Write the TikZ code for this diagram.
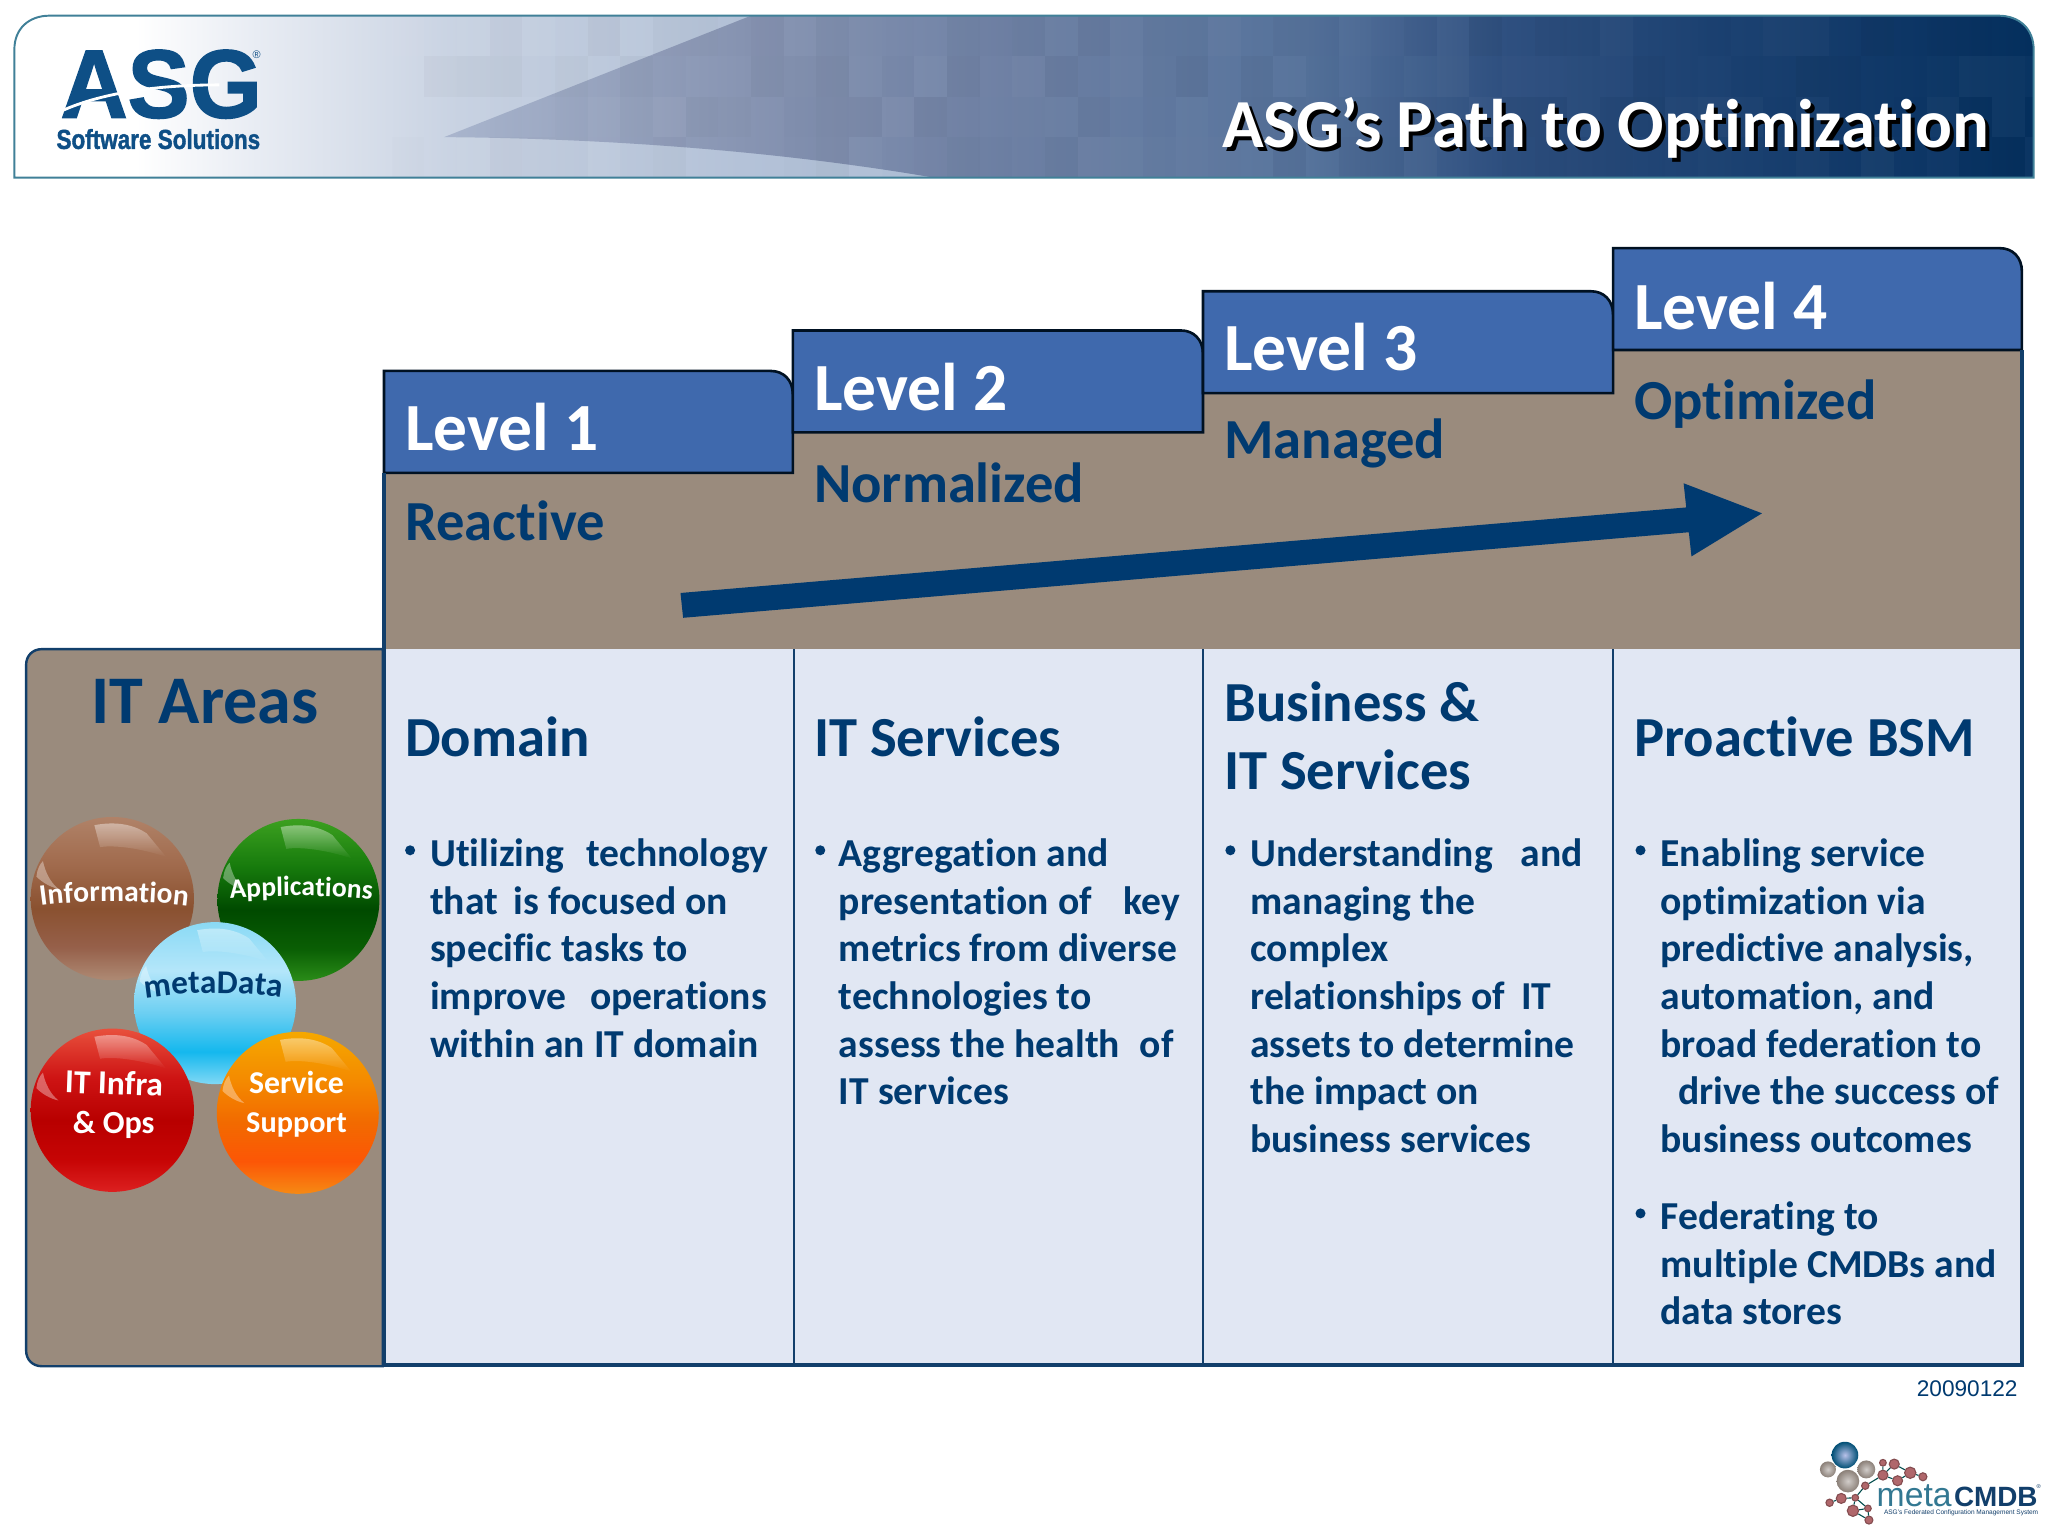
\documentclass[tikz,border=0pt]{standalone}
\usepackage{fontspec}
\setmainfont{Carlito}[Ligatures=NoCommon]
\newfontfamily\lib{Liberation Sans}
\newfontfamily\libheavy{Liberation Sans}[BoldFeatures={FakeBold=1.6}]
\usetikzlibrary{fadings,decorations.text}
\definecolor{navy}{HTML}{003A70}
\definecolor{tabblue}{HTML}{3F69AD}
\definecolor{brown}{HTML}{9A8B7D}
\definecolor{pale}{HTML}{E1E7F3}
\definecolor{edge}{HTML}{123F6B}
\definecolor{logoblue}{HTML}{0E4F86}
\newcommand{\bfs}[2]{\fontsize{#1}{#2}\selectfont\bfseries}
\definecolor{ha}{HTML}{E8ECF3}
\definecolor{hb}{HTML}{C8D2E2}
\definecolor{hc}{HTML}{B4C2D8}
\definecolor{hd}{HTML}{A9BBD2}
\pgfdeclarehorizontalshading{hdrbase}{100bp}{color(0bp)=(white);color(25bp)=(white);color(28bp)=(white);color(31bp)=(ha);color(36bp)=(hb);color(43bp)=(hc);color(50bp)=(hd);color(75bp)=(hd);color(100bp)=(hd)}
\definecolor{wa}{HTML}{A9B5CD}
\definecolor{wb}{HTML}{8794B2}
\definecolor{wc}{HTML}{6C7FA3}
\definecolor{wd}{HTML}{55729B}
\definecolor{we}{HTML}{2F5080}
\definecolor{wf}{HTML}{1D4272}
\definecolor{wg}{HTML}{05305F}
\pgfdeclarehorizontalshading{hdrwedge}{100bp}{color(0bp)=(wa);color(25bp)=(wa);color(34.6bp)=(wb);color(43.2bp)=(wc);color(52.1bp)=(wd);color(58.2bp)=(we);color(64.4bp)=(wf);color(75bp)=(wg);color(100bp)=(wg)}
% ball shadings: five stops, top to bottom
\newcommand{\ballshade}[6]{%
 \definecolor{#1a}{HTML}{#2}\definecolor{#1b}{HTML}{#3}\definecolor{#1c}{HTML}{#4}\definecolor{#1d}{HTML}{#5}\definecolor{#1e}{HTML}{#6}%
 \pgfdeclareverticalshading{#1}{100bp}{color(0bp)=(#1e);color(25bp)=(#1e);color(35bp)=(#1d);color(47bp)=(#1c);color(60bp)=(#1b);color(75bp)=(#1a);color(100bp)=(#1a)}}
\ballshade{ballinfo}{B08268}{A06A4C}{8A5130}{96604A}{AE8A74}
\ballshade{ballapp}{3CA020}{167A0C}{004A00}{0A5E04}{2A8C18}
\ballshade{ballmeta}{8ADAF5}{B4E6FA}{6CCFF2}{14B8EE}{80D8F5}
\ballshade{ballit}{E8503C}{CE1414}{B80000}{C60404}{DC2020}
\ballshade{ballsvc}{F5A800}{F48A00}{F26A00}{FC5606}{F68A14}
\newcommand{\ball}[5]{% name, x, y, r, shading
 \begin{scope}[shift={(#2,#3)},x=#4*0.6pt,y=-#4*0.6pt]
  \node[circle,inner sep=0pt,minimum size=2*#4*0.6pt] (#1) at (0,0) {};
  \shade[shading=#5] (0,0) circle (1);
  \fill[white,opacity=.45,path fading=south] (-.22,-.9) .. controls (.1,-.96) and (.3,-.88) .. (.42,-.8) -- (.66,-.51) .. controls (.35,-.62) and (0,-.66) .. (-.15,-.63) -- cycle;
  \fill[white,opacity=.35] (-.93,-.27) .. controls (-.92,-.36) and (-.89,-.42) .. (-.85,-.46) .. controls (-.82,-.32) and (-.76,-.2) .. (-.66,-.12) .. controls (-.76,-.14) and (-.86,-.2) .. (-.93,-.27) -- cycle;
 \end{scope}}
\definecolor{molred}{HTML}{B0676B}
\definecolor{molgrey}{HTML}{8B8078}
\tikzset{
 tabshape/.style={fill=tabblue,draw=black!70!navy,line width=1.2pt},
 levellabel/.style={anchor=base west,inner sep=0pt,text=white,font=\bfs{31}{31}},
 stagelabel/.style={anchor=base west,inner sep=0pt,text=navy,font=\bfs{26}{26}},
 headlabel/.style={anchor=base west,inner sep=0pt,text=navy,font=\bfs{26}{31.2}},
 bodytext/.style={anchor=north west,inner sep=0pt,align=left,text=navy,font=\bfs{18.2}{21.9}},
 bulletdot/.style={circle,fill=navy,inner sep=0pt,minimum size=4.6pt},
 balltext/.style={inner sep=0pt,anchor=base,text=white},
 redball/.style={circle,inner sep=0pt,fill=#1,draw=#1!75!black,line width=.5pt},
 molecule/.style={draw=teal!60!black,line width=.5pt}
}
\begin{document}
\begin{tikzpicture}[x=0.6pt,y=-0.6pt]
\useasboundingbox (0,0) rectangle (1568,1176);
\fill[white] (0,0) rectangle (1568,1176);
% ---------- header
\begin{scope}
 \path[clip] (11,136) -- (11,38) .. controls (11,22) and (22,12) .. (38,12) -- (1530,12) .. controls (1546,12) and (1557,22) .. (1557,38) -- (1557,136) -- cycle;
 \shade[shading=hdrbase] (11,12) rectangle (1557,136);
 \shade[shading=hdrwedge] (340,105) -- (575,12) -- (1557,12) -- (1557,136) -- (715,136) .. controls (610,118) and (480,106) .. (340,105) -- cycle;
 \pgfmathsetseed{11}
 \foreach \c in {0,...,50} \foreach \r in {0,...,3}{
  \pgfmathsetmacro{\mosaic}{rnd*0.035}
  \pgfmathsetmacro{\kind}{rnd}
  \pgfmathsetmacro{\xa}{300+\c*25}
  \pgfmathsetmacro{\ya}{12+\r*31}
  \ifdim\kind pt<0.5pt
   \fill[black,opacity=\mosaic] (\xa,\ya) rectangle (\xa+25,\ya+31);
  \else
   \fill[white,opacity=\mosaic] (\xa,\ya) rectangle (\xa+25,\ya+31);
  \fi
 }
\end{scope}
\draw[draw=teal!40!navy!75,line width=.9pt] (11,136) -- (11,38) .. controls (11,22) and (22,12) .. (38,12) -- (1530,12) .. controls (1546,12) and (1557,22) .. (1557,38) -- (1557,136) -- cycle;
% ASG logo
\node[anchor=base west,inner sep=0pt,text=logoblue,font=\libheavy\bfseries\fontsize{44.5}{44.5}\selectfont,xscale=.96,transform shape] (asg) at (46,90) {ASG};
\draw[white,line width=1.3pt] (47,85) .. controls (80,70) and (125,65) .. (168,65);
\node[anchor=base west,inner sep=0pt,text=logoblue,font=\lib\fontsize{5}{5}\selectfont] (asgr) at (193,45) {®};
\node[anchor=base west,inner sep=0pt,text=logoblue,font=\libheavy\bfseries\fontsize{12.6}{12.6}\selectfont,xscale=.82,transform shape] (asgsub) at (43,114) {Software Solutions};
% title
\node[anchor=base east,inner sep=0pt,text=black,font=\bfs{31.6}{31.6}] (titleshadow) at (1526,116) {ASG’s Path to Optimization};
\node[anchor=base east,inner sep=0pt,text=white,font=\bfs{31.6}{31.6}] (title) at (1523,113) {ASG’s Path to Optimization};
% ---------- brown staircase
\fill[brown] (294,362) -- (607,362) -- (607,331) -- (921,331) -- (921,301) -- (1235,301) -- (1235,268) -- (1548,268) -- (1548,497) -- (294,497) -- cycle;
% ---------- pale body
\fill[pale] (294,497) rectangle (1548,1045);
% ---------- tabs
\draw[tabshape] (294,362) -- (294,284) -- (590,284) .. controls (600,284) and (607,291) .. (607,302) -- (607,362) -- cycle;
\draw[tabshape] (607,331) -- (607,253) -- (904,253) .. controls (914,253) and (921,260) .. (921,271) -- (921,331) -- cycle;
\draw[tabshape] (921,301) -- (921,223) -- (1218,223) .. controls (1228,223) and (1235,230) .. (1235,241) -- (1235,301) -- cycle;
\draw[tabshape] (1235,268) -- (1235,190) -- (1531,190) .. controls (1541,190) and (1548,197) .. (1548,208) -- (1548,268) -- cycle;
% outlines
\draw[edge,line width=1.1pt] (608,497) -- (608,1045) (921,497) -- (921,1045) (1235,497) -- (1235,1045);
\draw[edge,line width=1.5pt] (294,362) -- (294,1045) -- (1548,1045) -- (1548,268);
% ---------- IT Areas
\path[fill=brown,draw=edge,line width=1.1pt] (293,497) -- (32,497) .. controls (25,497) and (20,502) .. (20,509) -- (20,1034) .. controls (20,1041) and (25,1046) .. (32,1046) -- (293,1046) -- cycle;
\node[anchor=base,inner sep=0pt,text=navy,font=\bfs{31.3}{31.3}] (itareas) at (157,554) {IT Areas};
% labels
\node[levellabel] (l1) at (310,345) {Level 1};
\node[levellabel] (l2) at (623,314) {Level 2};
\node[levellabel] (l3) at (937,284) {Level 3};
\node[levellabel] (l4) at (1251,252) {Level 4};
\node[stagelabel] (s1) at (310,414) {Reactive};
\node[stagelabel] (s2) at (623,385) {Normalized};
\node[stagelabel] (s3) at (937,351) {Managed};
\node[stagelabel] (s4) at (1251,321) {Optimized};
% arrow
\fill[navy] (521,454) -- (1291,388.5) -- (1289,370) -- (1349,393) -- (1295,426) -- (1293,407.5) -- (523,473) -- cycle;
% column heads
\node[headlabel] (h1) at (310,579.5) {Domain};
\node[headlabel] (h2) at (623,579.5) {IT Services};
\node[headlabel,anchor=north west,align=left] (h3) at (937,516) {\strut Business \&\\\strut IT Services};
\node[headlabel] (h4) at (1251,579.5) {Proactive BSM};
% bullets and body
\node[bulletdot] (b1) at (314,651) {};
\node[bodytext] (t1) at (329,637.5) {\strut Utilizing\hspace{.55em}technology\\that\hspace{.4em}is focused on\\specific tasks to\\improve\hspace{.6em}operations\\within an IT domain};
\node[bulletdot] (b2) at (628,651) {};
\node[bodytext] (t2) at (642,637.5) {\strut Aggregation and\\presentation of\hspace{.8em}key\\metrics from diverse\\technologies to\\assess the health\hspace{.5em}of\\IT services};
\node[bulletdot] (b3) at (942,651) {};
\node[bodytext] (t3) at (957,637.5) {\strut Understanding\hspace{.7em}and\\managing the\\complex\\relationships of\hspace{.4em}IT\\assets to determine\\the impact on\\business services};
\node[bulletdot] (b4) at (1256,651) {};
\node[bodytext] (t4) at (1271,637.5) {\strut Enabling service\\optimization via\\predictive analysis,\\automation, and\\broad federation to\\\hspace{.45em}drive the success of\\business outcomes};
\node[bulletdot] (b5) at (1256,929) {};
\node[bodytext] (t5) at (1271,915.5) {\strut Federating to\\multiple CMDBs and\\data stores};
% ---------- balls
\ball{binfo}{86}{688}{62.5}{ballinfo}
\ball{bapp}{228.5}{689}{62}{ballapp}
\ball{bmeta}{164.6}{768}{62}{ballmeta}
\ball{bit}{86}{850}{62.5}{ballit}
\ball{bsvc}{228}{852}{62}{ballsvc}
\path[postaction={decorate,decoration={text along path,text align=center,text={|\bfs{13.6}{13.6}\color{white}|Information}}}] (28,694) .. controls (60,689) and (112,689) .. (147,694);
\path[postaction={decorate,decoration={text along path,text align=center,text={|\bfs{12.7}{12.7}\color{white}|Applications}}}] (174,688) .. controls (205,685) and (255,685) .. (287,689);
\path[postaction={decorate,decoration={text along path,text align=center,text={|\bfs{15.3}{15.3}\color{navy}|metaData}}}] (109,765) .. controls (135,759) and (190,759) .. (218,764);
\node[balltext,font=\bfs{15.4}{15.4},rotate=-2] (nit1) at (87,838) {IT Infra};
\node[balltext,font=\bfs{14.8}{14.8}] (nit2) at (87,868) {\& Ops};
\node[balltext,font=\bfs{14.6}{14.6}] (nsvc1) at (227,837) {Service};
\node[balltext,font=\bfs{13.9}{13.9}] (nsvc2) at (227,867) {Support};
% ---------- date
\node[anchor=base east,inner sep=0pt,text=navy,font=\lib\fontsize{10.4}{10.4}\selectfont] (date) at (1545,1069) {20090122};
% ---------- metaCMDB logo
\begin{scope}[shift={(1363,1026)},x=0.1531pt,y=-0.1531pt]
 \foreach \n/\xx/\yy/\rr in {a/308/368/10,b/342/372/15,c/308/405/15,d/352/422/15,e/390/398/17,f/428/410/12,g/255/437/11,h/225/473/10,i/183/475/15,j/148/488/11,k/218/512/17,l/263/505/10,m/266/540/12}
  \node[redball=molred,minimum size=2*\rr*0.1531pt] (m\n) at (\xx,\yy) {};
 \draw[molecule] (ma) -- (mc) (mb) -- (mc) (mc) -- (md) (mb) -- (me) (md) -- (me) (me) -- (mf) (mc) -- (mg) (mg) -- (mh) (mh) -- (mi) (mi) -- (mj) (mh) -- (mk) (mk) -- (ml) (ml) -- (mm) (mk) -- (mm) (mh) -- (ml);
 \node[circle,inner sep=0pt,minimum size=80*0.1531pt,shade,inner color=blue!15!white!85!navy,outer color=navy!70!teal] (mblue) at (194,345) {};
 \node[circle,inner sep=0pt,minimum size=48*0.1531pt,shade,inner color=molgrey!40,outer color=molgrey] (mg1) at (143,388) {};
 \node[circle,inner sep=0pt,minimum size=54*0.1531pt,shade,inner color=molgrey!40,outer color=molgrey] (mg2) at (258,388) {};
 \node[circle,inner sep=0pt,minimum size=68*0.1531pt,shade,inner color=molgrey!40,outer color=molgrey] (mg3) at (203,423) {};
 \node[anchor=base west,inner sep=0pt,text=teal!40!navy!80,font=\lib\fontsize{15.5}{15.5}\selectfont] (metaw) at (288,500) {meta};
 \node[anchor=base west,inner sep=0pt,text=edge,font=\lib\bfseries\fontsize{12.8}{12.8}\selectfont] (cmdb) at (520,500) {CMDB};
 \node[anchor=base west,inner sep=0pt,text=edge,font=\lib\fontsize{2.6}{2.6}\selectfont] (cmdbr) at (768,445) {®};
 \node[anchor=base west,inner sep=0pt,text=edge,font=\lib\fontsize{3}{3}\selectfont] (tagline) at (310,524) {ASG’s Federated Configuration Management System};
\end{scope}
\end{tikzpicture}
\end{document}
